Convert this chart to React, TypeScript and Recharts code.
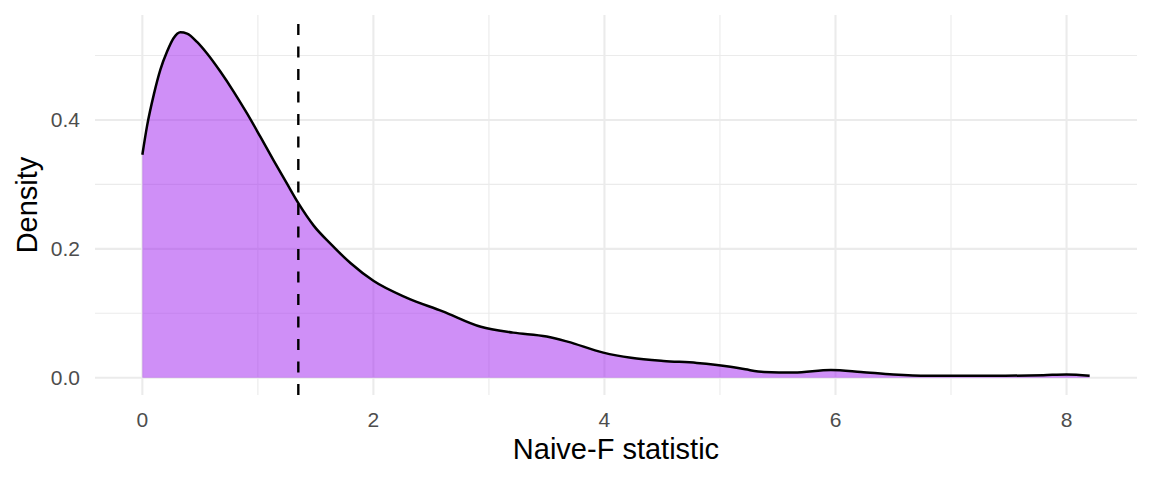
import React from 'react';
import {
  ComposedChart,
  Area,
  XAxis,
  YAxis,
  CartesianGrid,
  ReferenceLine,
  Label,
} from 'recharts';

// Density estimate of the Naive-F statistic
const statValues = [
  0, 0.04, 0.1, 0.156, 0.214, 0.271, 0.329, 0.387, 0.473, 0.56, 0.675, 0.79, 0.906,
  1.021, 1.137, 1.252, 1.353, 1.483, 1.628, 1.801, 2.003, 2.29, 2.6, 2.93, 3.21, 3.5,
  3.68, 3.99, 4.23, 4.51, 4.8, 5.09, 5.22, 5.38, 5.64, 5.96, 6.22, 6.5, 6.8, 7.37, 7.8,
  8.0, 8.2,
];
const densityValues = [
  0.346, 0.39, 0.44, 0.478, 0.506, 0.527, 0.536, 0.534, 0.521, 0.503, 0.475, 0.444,
  0.41, 0.374, 0.337, 0.301, 0.27, 0.236, 0.208, 0.178, 0.15, 0.124, 0.103, 0.079, 0.07,
  0.064, 0.056, 0.039, 0.031, 0.026, 0.023, 0.017, 0.013, 0.009, 0.008, 0.012, 0.009,
  0.005, 0.003, 0.003, 0.004, 0.005, 0.003,
];
const observedStat = 1.35;

const xTicks = [0, 2, 4, 6, 8];
const xMinorTicks = [1, 3, 5, 7];
const yTicks = [0, 0.2, 0.4];
const yMinorTicks = [0.1, 0.3, 0.5];
const xDomain = [-0.41, 8.61];
const yDomain = [-0.0268, 0.5628];

const xTitle = 'Naive-F statistic';
const yTitle = 'Density';

const data = statValues.map((x, i) => ({ x, y: densityValues[i] }));

const FONT = '"Liberation Sans", Arial, Helvetica, sans-serif';

const XTitle = (props: any) => {
  const vb = props.viewBox;
  return (
    <text
      x={vb.x + vb.width / 2}
      y={vb.y + vb.height - 21}
      textAnchor="middle"
      fontSize={29}
      fontFamily={FONT}
      fill="#000000"
    >
      {xTitle}
    </text>
  );
};

const YTitle = (props: any) => {
  const vb = props.viewBox;
  const x = vb.x + 37;
  const y = vb.y + vb.height / 2;
  return (
    <text
      x={x}
      y={y}
      transform={`rotate(-90, ${x}, ${y})`}
      textAnchor="middle"
      fontSize={29}
      fontFamily={FONT}
      fill="#000000"
    >
      {yTitle}
    </text>
  );
};

export default function App() {
  return (
    <div style={{ position: 'absolute', left: 0, top: 0, width: 1152, height: 480, background: '#ffffff' }}>
      <ComposedChart
        width={1152}
        height={480}
        data={data}
        margin={{ top: 15, right: 15, bottom: 0, left: 0 }}
      >
        <XAxis
          dataKey="x"
          type="number"
          domain={xDomain}
          ticks={xTicks}
          allowDataOverflow
          height={85}
          axisLine={false}
          tickLine={false}
          tickSize={0}
          tickMargin={17}
          tick={{ fill: '#4D4D4D', fontSize: 21, fontFamily: FONT }}
        >
          <Label content={<XTitle />} />
        </XAxis>
        <YAxis
          type="number"
          domain={yDomain}
          ticks={yTicks}
          allowDataOverflow
          width={95}
          axisLine={false}
          tickLine={false}
          tickSize={0}
          tickMargin={15}
          tickFormatter={(v: number) => v.toFixed(1)}
          tick={{ fill: '#4D4D4D', fontSize: 21, fontFamily: FONT }}
        >
          <Label content={<YTitle />} />
        </YAxis>
        <CartesianGrid
          verticalValues={xMinorTicks}
          horizontalValues={yMinorTicks}
          stroke="#EBEBEB"
          strokeWidth={1.1}
        />
        <CartesianGrid
          verticalValues={xTicks}
          horizontalValues={yTicks}
          stroke="#EBEBEB"
          strokeWidth={2.1}
        />
        <Area
          dataKey="y"
          type="monotone"
          baseValue={0}
          fill="#A020F0"
          fillOpacity={0.5}
          stroke="#000000"
          strokeWidth={2.5}
          isAnimationActive={false}
          dot={false}
          activeDot={false}
        />
        <ReferenceLine
          x={observedStat}
          stroke="#000000"
          strokeWidth={2.4}
          strokeDasharray="11 11.5"
        />
      </ComposedChart>
    </div>
  );
}
